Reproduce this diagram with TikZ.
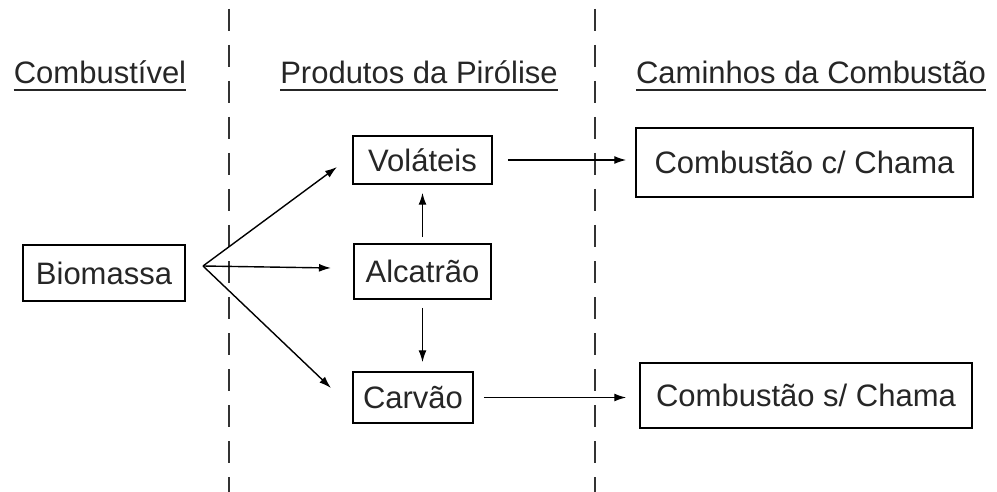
\documentclass[tikz,border=0pt]{standalone}
\usepackage{fontspec}
\setmainfont{Liberation Sans}
\usetikzlibrary{arrows.meta,calc}
\tikzset{
  box/.style={draw=black, line width=1.5pt, inner sep=0pt, text=black!85,
    font=\fontsize{31}{37}\selectfont},
  hdr/.style={inner sep=0pt, anchor=base, text=black!85,
    font=\fontsize{31}{37}\selectfont},
  uline/.style={line width=1.3pt, black!85},
  arr/.style={line width=1.4pt, -{Latex[length=12pt,width=8pt]}},
  divider/.style={line width=1.8pt, black!80, dash pattern=on 22pt off 14pt}
}
\begin{document}
\begin{tikzpicture}[x=1pt,y=-1pt]
\useasboundingbox (0,0) rectangle (997,492);
\fill[white] (0,0) rectangle (997,492);
% dividers
\coordinate (d1t) at (229,9);
\coordinate (d1b) at (229,492);
\coordinate (d2t) at (595,9);
\coordinate (d2b) at (595,492);
\draw[divider] (d1t) -- (d1b);
\draw[divider] (d2t) -- (d2b);
% headers
\node[hdr] (h1) at (100,84) {Combustível};
\node[hdr] (h2) at (419,84) {Produtos da Pirólise};
\node[hdr] (h3) at (811,84) {Caminhos da Combustão};
\foreach \h in {h1,h2,h3}{
  \draw[uline] ($(\h.base west)+(0,6)$) -- ($(\h.base east)+(0,6)$);
}
% boxes
\node[box, minimum width=162pt, minimum height=56pt] (bio) at (104,273) {Biomassa};
\node[box, minimum width=139pt, minimum height=48pt] (vol) at (422.5,160) {Voláteis};
\node[box, minimum width=137pt, minimum height=55pt] (alc) at (422.5,271.5) {Alcatrão};
\node[box, minimum width=120pt, minimum height=51pt] (car) at (413,397.5) {Carvão};
\node[box, minimum width=337pt, minimum height=69pt] (cc) at (804.5,162.5) {Combustão c/ Chama};
\node[box, minimum width=332pt, minimum height=65pt] (cs) at (806,395.5) {Combustão s/ Chama};
% connectors
\coordinate (src) at (203,266);
\coordinate (tv) at (337,167);
\coordinate (ta) at (331,268);
\coordinate (tc) at (331,388);
\draw[arr] (src) -- (tv);
\draw[arr] (src) -- (ta);
\draw[arr] (src) -- (tc);
\draw[arr, shorten <=6pt, shorten >=8pt] (alc.north) -- (vol.south);
\draw[arr, shorten <=8pt, shorten >=9pt] (alc.south) -- (alc.south |- car.north);
\draw[arr, shorten <=15pt, shorten >=9pt] (vol.east) -- (cc.west |- vol.east);
\draw[arr, shorten <=10pt, shorten >=13pt] (car.east) -- (cs.west |- car.east);
\end{tikzpicture}
\end{document}
